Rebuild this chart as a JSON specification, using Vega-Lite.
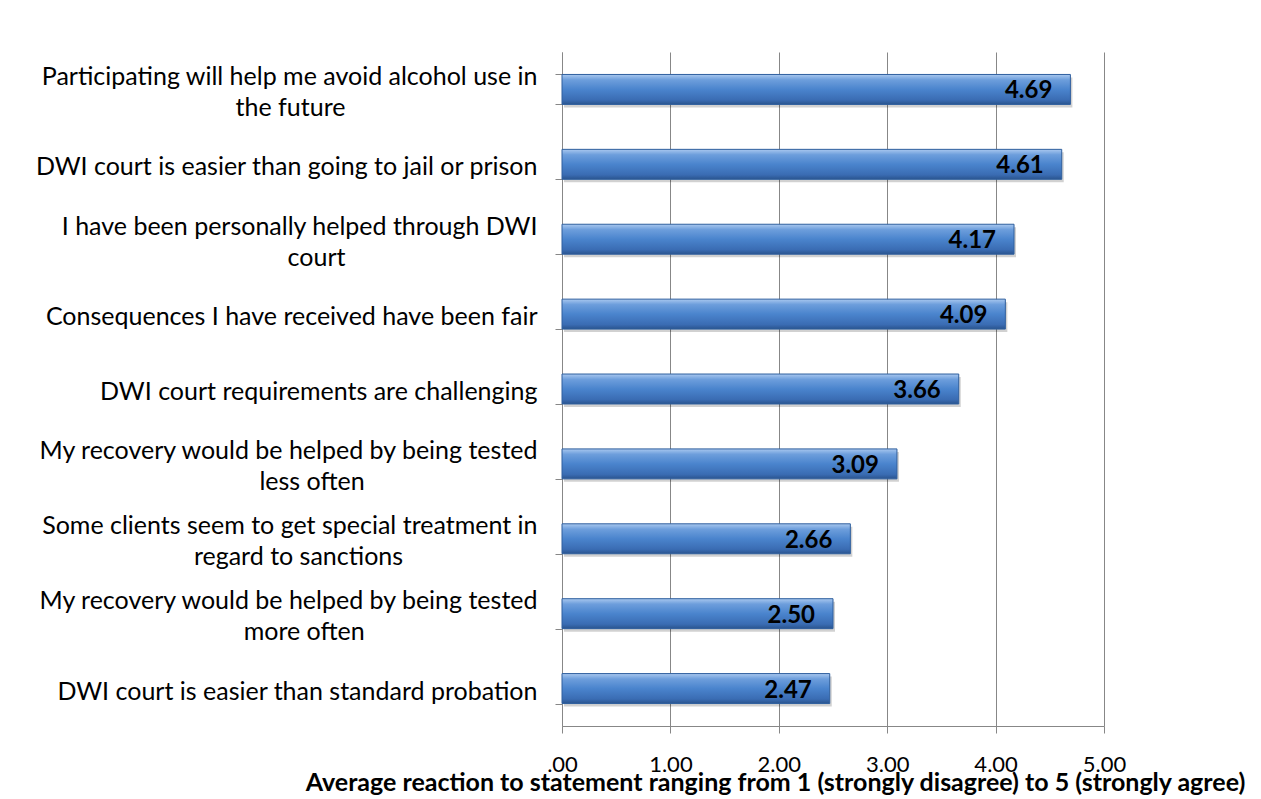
{
  "$schema": "https://vega.github.io/schema/vega-lite/v6.json",
  "width": 542,
  "height": 674,
  "autosize": {"type": "none"},
  "padding": {"left": 562, "top": 52, "right": 157, "bottom": 73},
  "background": "white",
  "config": {"view": {"stroke": null}, "font": "Lato"},
  "data": {
    "values": [
      {"statement": "Participating will help me avoid alcohol use in\nthe future", "score": 4.69},
      {"statement": "DWI court is easier than going to jail or prison", "score": 4.61},
      {"statement": "I have been personally helped through DWI\ncourt", "score": 4.17},
      {"statement": "Consequences I have received have been fair", "score": 4.09},
      {"statement": "DWI court requirements are challenging", "score": 3.66},
      {"statement": "My recovery would be helped by being tested\nless often", "score": 3.09},
      {"statement": "Some clients seem to get special treatment in\nregard to sanctions", "score": 2.66},
      {"statement": "My recovery would be helped by being tested\nmore often", "score": 2.5},
      {"statement": "DWI court is easier than standard probation", "score": 2.47}
    ]
  },
  "encoding": {
    "y": {
      "field": "statement",
      "type": "nominal",
      "sort": null,
      "scale": {"paddingInner": 0.6, "paddingOuter": 0.3},
      "axis": {
        "title": null,
        "tickBand": "extent",
        "tickSize": 7,
        "tickColor": "#878787",
        "domainColor": "#878787",
        "labelFont": "Lato",
        "labelFontSize": 25,
        "labelColor": "#000000",
        "labelLimit": 0,
        "labelLineHeight": 15.5,
        "labelBaseline": "middle",
        "labelAlign": "right",
        "labelPadding": 18,
        "labelOffset": -13,
        "labelExpr": "indexof(datum.label, '\\n') < 0 ? ['\\u200b', datum.label, '\\u200b'] : [split(datum.label, '\\n')[0], '\\u200b', pad(split(datum.label, '\\n')[1], length(split(datum.label, '\\n')[1]) + round((length(split(datum.label, '\\n')[0]) - length(split(datum.label, '\\n')[1])) * 0.82), '\\u00a0') + '\\u200b']"
      }
    },
    "x": {
      "field": "score",
      "type": "quantitative",
      "scale": {"domain": [0, 5]},
      "axis": {
        "values": [0, 1, 2, 3, 4, 5],
        "grid": true,
        "gridColor": "#878787",
        "tickColor": "#878787",
        "domainColor": "#878787",
        "tickSize": 7,
        "labelFont": "Lato",
        "labelFontSize": 22,
        "labelColor": "#000000",
        "labelPadding": 21,
        "labelFlush": false,
        "labelExpr": "datum.value == 0 ? '.00' : format(datum.value, '.2f')",
        "title": "Average reaction to statement ranging from 1 (strongly disagree) to 5 (strongly agree)",
        "titleFont": "Lato",
        "titleFontSize": 25,
        "titleFontWeight": "bold",
        "titleColor": "#000000",
        "titleX": 213,
        "titleY": 64,
        "titleAlign": "center",
        "titleBaseline": "alphabetic"
      }
    }
  },
  "layer": [
    {
      "mark": {"type": "bar", "color": "#000000", "opacity": 0.18, "yOffset": 3, "xOffset": 2},
      "encoding": {}
    },
    {
      "mark": {
        "type": "bar",
        "stroke": "#2f5f9e",
        "strokeWidth": 1,
        "color": {
          "gradient": "linear",
          "x1": 0, "y1": 0, "x2": 0, "y2": 1,
          "stops": [
            {"offset": 0, "color": "#a9c8ef"},
            {"offset": 0.18, "color": "#6d9edc"},
            {"offset": 0.5, "color": "#4a84cd"},
            {"offset": 0.85, "color": "#3a6cb3"},
            {"offset": 1, "color": "#2a548e"}
          ]
        }
      },
      "encoding": {}
    },
    {
      "mark": {"type": "text", "align": "right", "baseline": "middle", "dx": -18, "dy": 2, "font": "Lato", "fontSize": 24, "fontWeight": "bold", "color": "#000000"},
      "encoding": {"text": {"field": "score", "type": "quantitative", "format": ".2f"}}
    }
  ]
}
